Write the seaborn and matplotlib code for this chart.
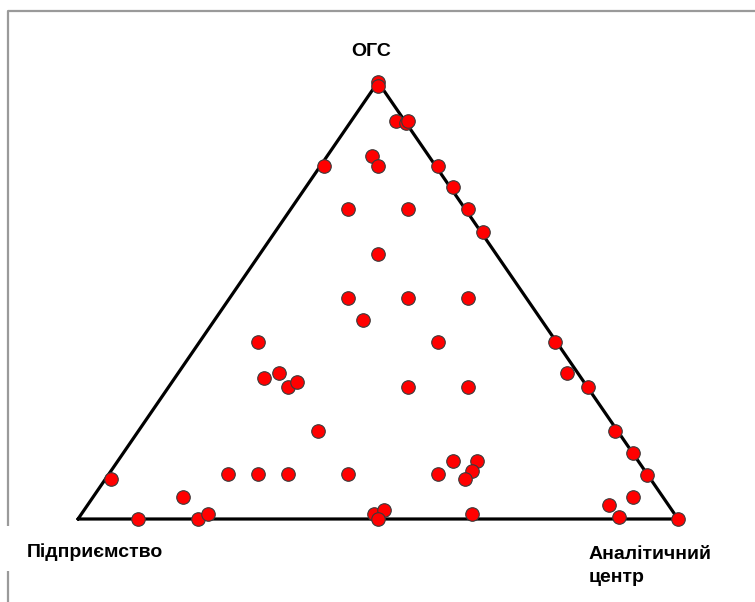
import matplotlib
matplotlib.use('Agg')
import matplotlib.pyplot as plt
import numpy as np
import pandas as pd
import seaborn as sns

sns.set_style('white')
plt.rcParams['font.family'] = ['Liberation Sans Narrow', 'Liberation Sans', 'DejaVu Sans']

# shares of each point: ОГС (top) and Аналітичний центр (right); the rest is Підприємство
ogs = [1.0, 0.991, 0.911, 0.906, 0.911, 0.808, 0.831, 0.808, 0.808, 0.76, 0.709, 0.657,
       0.709, 0.709, 0.606, 0.506, 0.506, 0.506, 0.455, 0.405, 0.405, 0.323, 0.334, 0.302,
       0.313, 0.302, 0.302, 0.201, 0.103, 0.103, 0.103, 0.103, 0.103, 0.133, 0.133, 0.11,
       0.092, 0.405, 0.334, 0.302, 0.201, 0.151, 0.101, 0.05, 0.032, 0.005, 0.0,
       0.092, 0.05, 0.0, 0.0, 0.011, 0.011, 0.021, 0.0, 0.011]
analytic = [0.0, 0.0045, 0.0745, 0.0937, 0.0945, 0.006, 0.0745, 0.096, 0.196, 0.245, 0.2955,
            0.3465, 0.0955, 0.1955, 0.197, 0.197, 0.297, 0.397, 0.2475, 0.3975, 0.0975,
            0.1485, 0.168, 0.199, 0.2085, 0.399, 0.499, 0.2995, 0.1985, 0.2485, 0.2985,
            0.3985, 0.5485, 0.5585, 0.5985, 0.6017, 0.599, 0.5925, 0.648, 0.699, 0.7945,
            0.8495, 0.8978, 0.9, 0.869, 0.899, 1.0,
            0.009, 0.15, 0.1, 0.2, 0.211, 0.488, 0.4995, 0.5, 0.651]

vertex_labels = ['ОГС', 'Підприємство', 'Аналітичний\nцентр']

df = pd.DataFrame({'ogs': ogs, 'analytic': analytic})
df['enterprise'] = 1 - df['ogs'] - df['analytic']
# ternary -> cartesian (left vertex at 0,0; right at 1,0; top at 0.5,1)
df['x'] = df['analytic'] + df['ogs'] / 2
df['y'] = df['ogs']

fig = plt.figure(figsize=(7.55, 6.02), dpi=100)
ax = fig.add_axes([0, 0, 1, 1])
ax.set_xlim(-78 / 600, (755 - 78) / 600)
ax.set_ylim((519 - 602) / 437, 519 / 437)
ax.axis('off')


def px(x, y):
    return (x - 78) / 600, (519 - y) / 437


# outer frame (left side broken by the label box)
fx0, fy0 = px(8, 11)
fx1, fy1 = px(800, 640)
gy0 = px(0, 526)[1]
gy1 = px(0, 571)[1]
frame = dict(color='#9a9a9a', linewidth=1.6, zorder=1, solid_capstyle='butt')
ax.plot([fx1, fx0, fx0], [fy0, fy0, gy0], **frame)
ax.plot([fx0, fx0], [gy1, fy1], **frame)

ax.plot([0, 0.5, 1, 0], [0, 1, 0, 0], color='black', linewidth=2.3, zorder=2,
        solid_joinstyle='miter')

sns.scatterplot(data=df, x='x', y='y', ax=ax, color='#ff0000', edgecolor='#3a3a3a',
                linewidth=0.8, s=95, zorder=3, legend=False)

font = dict(fontsize=14, fontweight='bold', color='black')
ax.text(*px(371, 52), vertex_labels[0], ha='center', va='center', **font)
ax.text(*px(27, 552), vertex_labels[1], ha='left', va='center', **font)
ax.text(*px(589, 566), vertex_labels[2], ha='left', va='center', linespacing=1.5, **font)

fig.savefig('out.png', dpi=100)
